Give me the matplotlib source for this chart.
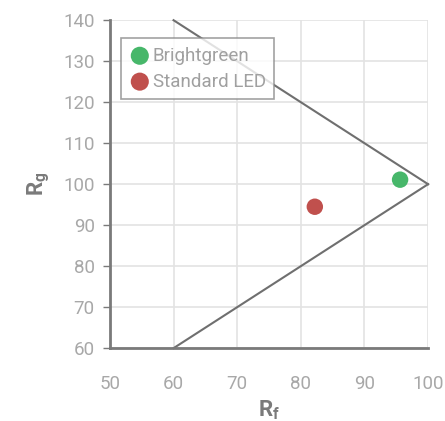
import matplotlib.pyplot as plt

# data
names = ['Brightgreen', 'Standard LED']
rf = [95.6, 82.2]
rg = [101.1, 94.5]
colors = ['#47b76a', '#c0504d']

# gamut boundary lines
upper_x = [60, 100]
upper_y = [140, 100]
lower_x = [60, 100]
lower_y = [60, 100]

xticks = [50, 60, 70, 80, 90, 100]
yticks = [60, 70, 80, 90, 100, 110, 120, 130, 140]

plt.rcParams['font.family'] = ['Roboto', 'DejaVu Sans']

fig = plt.figure(figsize=(4.45, 4.21), dpi=100)
ax = fig.add_axes([0.247, 0.173, 0.715, 0.779])

ax.plot(upper_x, upper_y, color='#6f6f6f', linewidth=1.5, zorder=2, clip_on=False)
ax.plot(lower_x, lower_y, color='#6f6f6f', linewidth=1.5, zorder=2, clip_on=False)

for name, x, y, c in zip(names, rf, rg, colors):
  ax.scatter(x, y, s=140, color=c, label=name, zorder=3, edgecolors='none')

ax.set_xlim(50, 100)
ax.set_ylim(60, 140)
ax.set_xticks(xticks)
ax.set_yticks(yticks)
ax.grid(True, color='#e3e3e3', linewidth=1.2)
ax.set_axisbelow(True)

for side in ['top', 'right']:
  ax.spines[side].set_visible(False)
for side in ['left', 'bottom']:
  ax.spines[side].set_color('#7a7a7a')
  ax.spines[side].set_linewidth(2)

ax.tick_params(axis='y', colors='#7a7a7a', labelcolor='#a8a8a8', labelsize=13.5, length=5, width=1, pad=6)
ax.tick_params(axis='x', length=0, labelcolor='#a8a8a8', labelsize=13.5, pad=19)

ax.set_xlabel('R$_\\mathregular{f}$', fontsize=16, color='#7a7a7a', fontweight='bold', labelpad=4)
ax.set_ylabel('R$_\\mathregular{g}$', fontsize=16, color='#7a7a7a', fontweight='bold', labelpad=8)

leg = ax.legend(loc='upper left', bbox_to_anchor=(0.035, 0.945), fontsize=13.5, frameon=True,
                fancybox=False, handletextpad=0.15, borderpad=0.45, labelspacing=0.42,
                handlelength=1.1, borderaxespad=0, markerscale=1.1)
leg.get_frame().set_edgecolor('#8a8a8a')
leg.get_frame().set_linewidth(1.2)
for t in leg.get_texts():
  t.set_color('#a0a0a0')

fig.savefig('out.png', dpi=100)
